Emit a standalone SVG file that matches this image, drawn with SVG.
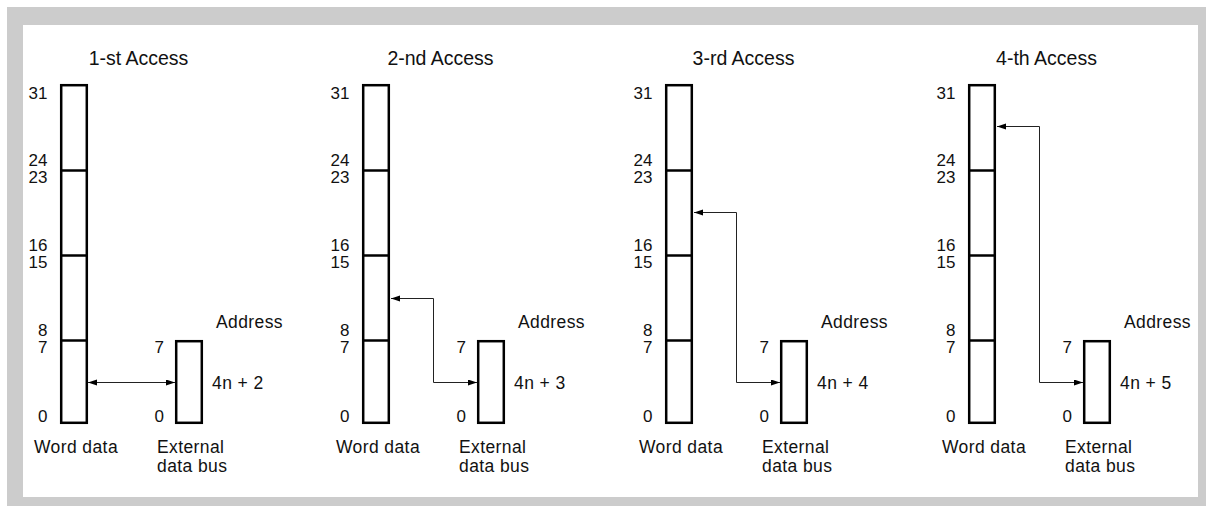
<svg xmlns="http://www.w3.org/2000/svg" width="1206" height="506" viewBox="0 0 1206 506">
<style>
text{font-family:"Liberation Sans",Arial,sans-serif;font-size:17.5px;fill:#111;letter-spacing:0.4px}
.title{font-size:19.5px;text-anchor:middle;letter-spacing:0}
.r{text-anchor:end;letter-spacing:0;font-size:17px}
.box{fill:#fff;stroke:#000;stroke-width:2.5}
.div{stroke:#000;stroke-width:2.5}
.con{fill:none;stroke:#222;stroke-width:1}
</style>
<defs>
<marker id="ah" markerUnits="userSpaceOnUse" markerWidth="10" markerHeight="8" refX="9" refY="3" orient="auto-start-reverse">
<path d="M0,0 L9,3 L0,6 z" fill="#000"/>
</marker>
<g id="panel">
<rect class="box" x="61.2" y="85.2" width="25.6" height="337.6"/>
<line class="div" x1="61" y1="170.5" x2="87" y2="170.5"/>
<line class="div" x1="61" y1="255.5" x2="87" y2="255.5"/>
<line class="div" x1="61" y1="340.5" x2="87" y2="340.5"/>
<rect class="box" x="176.2" y="341.2" width="25.6" height="81.6"/>
<text class="r" x="47.5" y="99">31</text>
<text class="r" x="47.5" y="166">24</text>
<text class="r" x="47.5" y="183">23</text>
<text class="r" x="47.5" y="251">16</text>
<text class="r" x="47.5" y="268">15</text>
<text class="r" x="47.5" y="336">8</text>
<text class="r" x="47.5" y="353">7</text>
<text class="r" x="47.5" y="422">0</text>
<text class="r" x="164" y="353">7</text>
<text class="r" x="164" y="422">0</text>
<text x="216" y="328">Address</text>
<text x="34" y="453">Word data</text>
<text x="157" y="453">External</text>
<text x="157" y="472">data bus</text>
</g>
</defs>
<rect x="7" y="7" width="1206" height="506" fill="#cccccc"/>
<rect x="23" y="25" width="1175" height="472" fill="#ffffff"/>
<g id="access1">
<use href="#panel"/>
<text class="title" x="138.5" y="65">1-st Access</text>
<text x="212" y="389">4n + 2</text>
</g>
<g id="access2" transform="translate(302,0)">
<use href="#panel"/>
<text class="title" x="138.5" y="65">2-nd Access</text>
<text x="212" y="389">4n + 3</text>
</g>
<g id="access3" transform="translate(605,0)">
<use href="#panel"/>
<text class="title" x="138.5" y="65">3-rd Access</text>
<text x="212" y="389">4n + 4</text>
</g>
<g id="access4" transform="translate(908,0)">
<use href="#panel"/>
<text class="title" x="138.5" y="65">4-th Access</text>
<text x="212" y="389">4n + 5</text>
</g>
<g id="connectors">
<path class="con" d="M88,382.5 H175" marker-start="url(#ah)" marker-end="url(#ah)"/>
<path class="con" d="M477,382.5 H433.5 V298.5 H391" marker-start="url(#ah)" marker-end="url(#ah)"/>
<path class="con" d="M780,382.5 H736.5 V212.5 H694" marker-start="url(#ah)" marker-end="url(#ah)"/>
<path class="con" d="M1083,382.5 H1039.5 V126.5 H997" marker-start="url(#ah)" marker-end="url(#ah)"/>
</g>
</svg>
